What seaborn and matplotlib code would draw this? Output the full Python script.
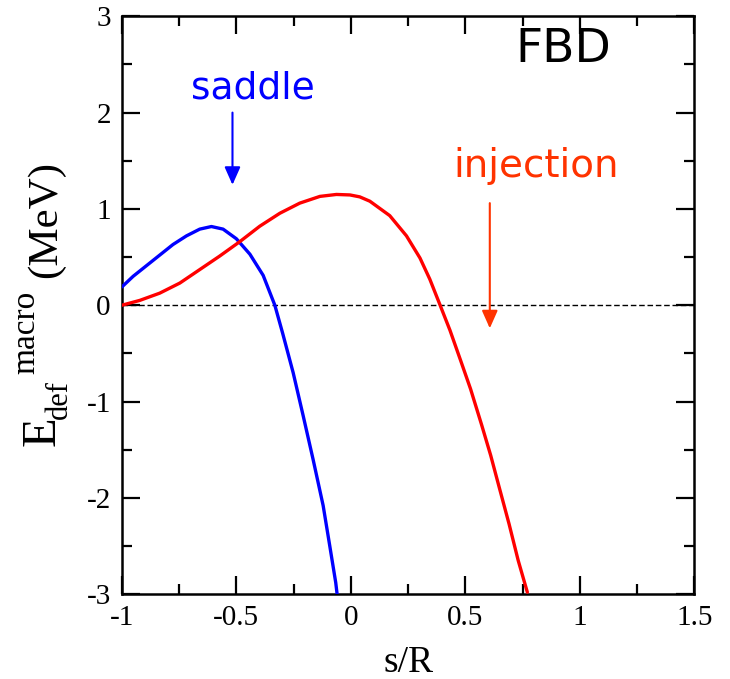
import matplotlib
matplotlib.use("Agg")
import matplotlib.pyplot as plt
import seaborn as sns
import pandas as pd
from matplotlib.ticker import MultipleLocator

# ---- data ----
saddle_s = [-1.0, -0.951, -0.893, -0.835, -0.777, -0.718, -0.66, -0.609, -0.558,
            -0.5, -0.441, -0.383, -0.332, -0.298, -0.252, -0.208, -0.165, -0.121,
            -0.092, -0.066, -0.060]
saddle_E = [0.19, 0.30, 0.41, 0.52, 0.63, 0.72, 0.79, 0.817, 0.79,
            0.69, 0.53, 0.31, 0.0, -0.29, -0.70, -1.15, -1.60, -2.08,
            -2.50, -2.88, -3.0]

inj_s = [-1.0, -0.922, -0.835, -0.747, -0.66, -0.573, -0.485, -0.398, -0.31, -0.223,
         -0.135, -0.063, -0.004, 0.039, 0.083, 0.17, 0.243, 0.302, 0.345, 0.39,
         0.433, 0.479, 0.523, 0.571, 0.611, 0.648, 0.691, 0.731, 0.771]
inj_E = [0.0, 0.05, 0.125, 0.23, 0.37, 0.51, 0.66, 0.82, 0.955, 1.06,
         1.13, 1.15, 1.145, 1.125, 1.08, 0.93, 0.72, 0.49, 0.27, 0.0,
         -0.26, -0.57, -0.87, -1.24, -1.56, -1.89, -2.27, -2.65, -2.98]

series_names = ["saddle", "injection"]
series_colors = {"saddle": "#0000FF", "injection": "#FF0000"}

x_ticks = [-1, -0.5, 0, 0.5, 1, 1.5]
x_tick_labels = ["-1", "-0.5", "0", "0.5", "1", "1.5"]
y_ticks = [-3, -2, -1, 0, 1, 2, 3]
y_tick_labels = ["-3", "-2", "-1", "0", "1", "2", "3"]

df = pd.concat([
    pd.DataFrame({"s": saddle_s, "E": saddle_E, "curve": "saddle"}),
    pd.DataFrame({"s": inj_s, "E": inj_E, "curve": "injection"}),
], ignore_index=True)

sns.set_theme(style="ticks")
plt.rcParams["font.family"] = ["Liberation Serif", "DejaVu Serif"]
plt.rcParams["lines.solid_joinstyle"] = "round"

W, H = 730, 679
fig = plt.figure(figsize=(W / 100, H / 100), dpi=100)
ax = fig.add_axes([0.167, 0.125, 0.951 - 0.167, 0.976 - 0.125])

ax.axhline(0, color="black", lw=1.0, ls=(0, (4, 2)), zorder=1)

sns.lineplot(data=df, x="s", y="E", hue="curve", hue_order=series_names,
             palette=series_colors, sort=False, estimator=None, legend=False,
             lw=2.4, ax=ax, zorder=3)

ax.set_xlim(-1, 1.5)
ax.set_ylim(-3, 3)
ax.set_xticks(x_ticks)
ax.set_xticklabels(x_tick_labels)
ax.set_yticks(y_ticks)
ax.set_yticklabels(y_tick_labels)
ax.xaxis.set_minor_locator(MultipleLocator(0.25))
ax.yaxis.set_minor_locator(MultipleLocator(0.5))

ax.tick_params(which="both", direction="in", top=True, right=True, width=1.6,
               color="black", labelsize=21, labelcolor="black")
ax.tick_params(which="major", length=13, pad=8)
ax.tick_params(which="minor", length=7.5)
for sp in ax.spines.values():
    sp.set_linewidth(1.8)
    sp.set_color("black")

ax.set_xlabel("s/R", fontsize=27, color="black", labelpad=10)
ax.set_ylabel("")

# y-axis label built from rotated text pieces: E_def^macro (MeV)
def ylab(txt, px, py, size):
    fig.text(px / W, 1 - py / H, txt, rotation=90, rotation_mode="anchor",
             ha="left", va="baseline", fontsize=size, color="black")

ylab("E", 55, 446, 35)
ylab("def", 67, 419, 22)
ylab("macro", 34, 374, 24)
ylab("(MeV)", 56, 278, 31)

# annotations
ann_font = ["DejaVu Sans"]
ax.text(-0.43, 2.25, "saddle", color="#0000FF", fontsize=27, family=ann_font,
        ha="center", va="center")
ax.annotate("", xy=(-0.517, 1.25), xytext=(-0.517, 2.0),
            arrowprops=dict(arrowstyle="-|>,head_length=0.9,head_width=0.4",
                            color="#0000FF", lw=1.5, shrinkA=0, shrinkB=0))

ax.text(0.808, 1.45, "injection", color="#FF3300", fontsize=28, family=ann_font,
        ha="center", va="center")
ax.annotate("", xy=(0.607, -0.24), xytext=(0.607, 1.06),
            arrowprops=dict(arrowstyle="-|>,head_length=0.9,head_width=0.4",
                            color="#FF3300", lw=1.5, shrinkA=0, shrinkB=0))

ax.text(0.93, 2.66, "FBD", color="black", fontsize=34, family=ann_font,
        ha="center", va="center")

fig.savefig("out.png", dpi=100)
